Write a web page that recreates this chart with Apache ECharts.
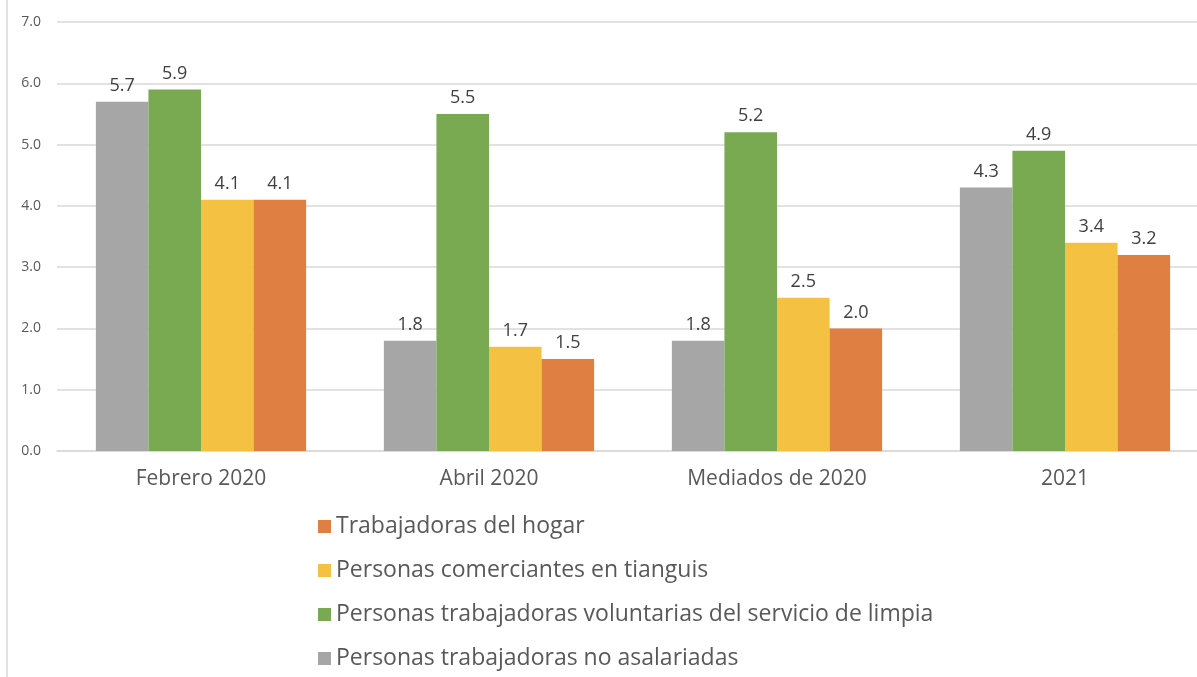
<!DOCTYPE html>
<html>
<head>
<meta charset="utf-8">
<script src="https://cdn.jsdelivr.net/npm/echarts@6/dist/echarts.min.js"></script>
<style>
  html, body { margin: 0; padding: 0; background: #fff; }
  #chart { width: 1197px; height: 677px; }
</style>
</head>
<body>
<div id="chart"></div>
<script>
// categorias del eje x
const periodos = ['Febrero 2020', 'Abril 2020', 'Mediados de 2020', '2021'];

// valores por serie
const noAsalariadas = [5.7, 1.8, 1.8, 4.3];
const voluntariasLimpia = [5.9, 5.5, 5.2, 4.9];
const comerciantesTianguis = [4.1, 1.7, 2.5, 3.4];
const trabajadorasHogar = [4.1, 1.5, 2.0, 3.2];

const nombres = [
  'Personas trabajadoras no asalariadas',
  'Personas trabajadoras voluntarias del servicio de limpia',
  'Personas comerciantes en tianguis',
  'Trabajadoras del hogar'
];
const colores = ['#a6a6a6', '#79aa52', '#f4c143', '#df7f41'];
const valores = [noAsalariadas, voluntariasLimpia, comerciantesTianguis, trabajadorasHogar];

const fuente = '"Open Sans", Lato, sans-serif';

const series = valores.map((data, i) => ({
  name: nombres[i],
  type: 'bar',
  data: data,
  barGap: '0%',
  barCategoryGap: '27%',
  itemStyle: { color: colores[i] },
  label: {
    show: true,
    position: 'top',
    distance: 7,
    formatter: p => p.value.toFixed(1),
    fontFamily: fuente,
    fontSize: 18,
    color: '#404040'
  }
}));

const chart = echarts.init(document.getElementById('chart'));
chart.setOption({
  animation: false,
  textStyle: { fontFamily: fuente },
  grid: { left: 57, top: 22, width: 1152, height: 429, outerBoundsMode: 'none' },
  legend: {
    orient: 'vertical',
    left: 318,
    top: 515,
    padding: 0,
    itemGap: 21,
    itemWidth: 13,
    itemHeight: 13,
    icon: 'rect',
    data: [nombres[3], nombres[2], nombres[1], nombres[0]],
    textStyle: { fontFamily: fuente, fontSize: 23, lineHeight: 23, color: '#595959' }
  },
  xAxis: {
    type: 'category',
    data: periodos,
    axisLine: { lineStyle: { color: '#d9d9d9', width: 1.5 } },
    axisTick: { show: false },
    axisLabel: { fontSize: 21, color: '#595959', margin: 18, fontFamily: fuente }
  },
  yAxis: {
    type: 'value',
    min: 0,
    max: 7,
    interval: 1,
    axisLabel: {
      formatter: v => v.toFixed(1),
      fontSize: 14,
      color: '#595959',
      margin: 16,
      fontFamily: fuente
    },
    splitLine: { lineStyle: { color: '#d9d9d9', width: 1.5 } }
  },
  graphic: [{
    type: 'line',
    shape: { x1: 7, y1: 0, x2: 7, y2: 677 },
    style: { stroke: '#d9d9d9', lineWidth: 1.5 }
  }],
  series: series
});
</script>
</body>
</html>
